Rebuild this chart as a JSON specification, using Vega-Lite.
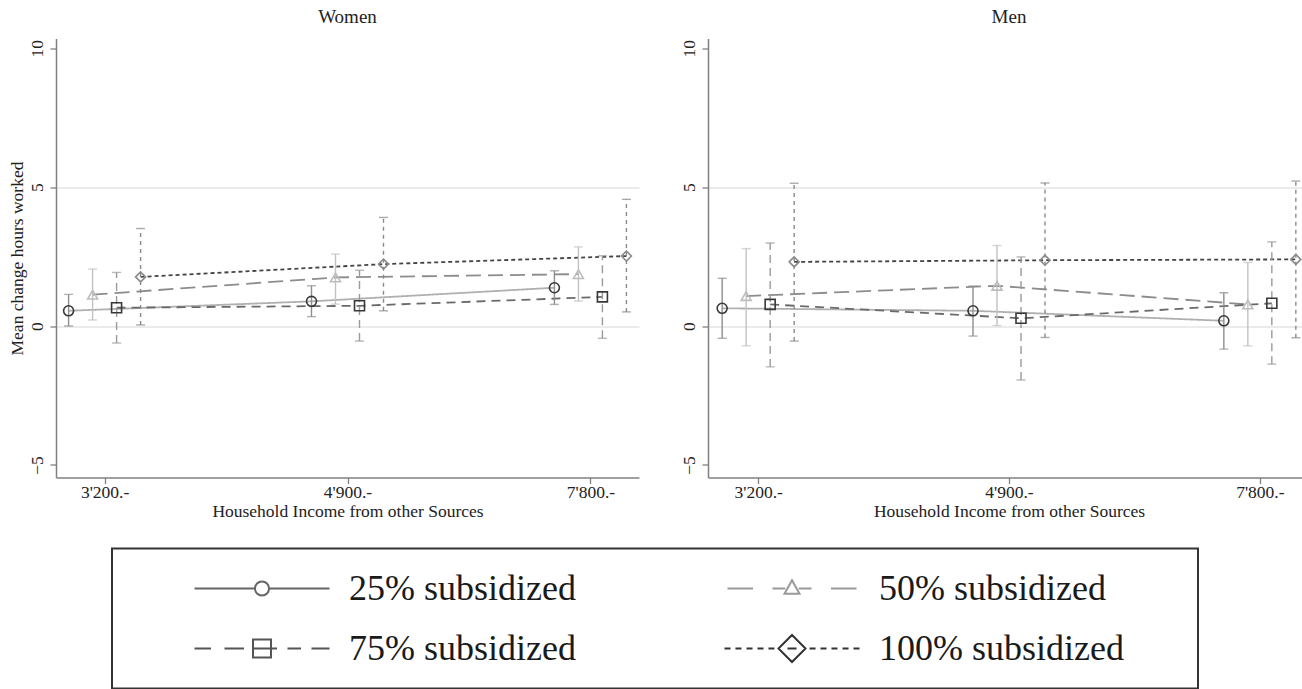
{
  "$schema": "https://vega.github.io/schema/vega-lite/v6.json",
  "padding": {"left": 1, "top": 7.5, "right": 0, "bottom": 0},
  "background": "white",
  "bounds": "flush",
  "spacing": 69,
  "datasets": {
    "pts": [
      {"sex": "Women", "income": "3'200.-", "group": "25% subsidized", "mean": 0.55, "lo": 0.0, "hi": 1.14},
      {"sex": "Women", "income": "4'900.-", "group": "25% subsidized", "mean": 0.89, "lo": 0.34, "hi": 1.45},
      {"sex": "Women", "income": "7'800.-", "group": "25% subsidized", "mean": 1.38, "lo": 0.78, "hi": 1.99},
      {"sex": "Women", "income": "3'200.-", "group": "50% subsidized", "mean": 1.13, "lo": 0.22, "hi": 2.05},
      {"sex": "Women", "income": "4'900.-", "group": "50% subsidized", "mean": 1.75, "lo": 0.79, "hi": 2.59},
      {"sex": "Women", "income": "7'800.-", "group": "50% subsidized", "mean": 1.87, "lo": 0.9, "hi": 2.85},
      {"sex": "Women", "income": "3'200.-", "group": "75% subsidized", "mean": 0.66, "lo": -0.61, "hi": 1.93},
      {"sex": "Women", "income": "4'900.-", "group": "75% subsidized", "mean": 0.73, "lo": -0.54, "hi": 2.01},
      {"sex": "Women", "income": "7'800.-", "group": "75% subsidized", "mean": 1.05, "lo": -0.44, "hi": 2.53},
      {"sex": "Women", "income": "3'200.-", "group": "100% subsidized", "mean": 1.77, "lo": 0.04, "hi": 3.51},
      {"sex": "Women", "income": "4'900.-", "group": "100% subsidized", "mean": 2.23, "lo": 0.55, "hi": 3.91},
      {"sex": "Women", "income": "7'800.-", "group": "100% subsidized", "mean": 2.52, "lo": 0.51, "hi": 4.56},
      {"sex": "Men", "income": "3'200.-", "group": "25% subsidized", "mean": 0.64, "lo": -0.44, "hi": 1.72},
      {"sex": "Men", "income": "4'900.-", "group": "25% subsidized", "mean": 0.55, "lo": -0.36, "hi": 1.44},
      {"sex": "Men", "income": "7'800.-", "group": "25% subsidized", "mean": 0.19, "lo": -0.83, "hi": 1.2},
      {"sex": "Men", "income": "3'200.-", "group": "50% subsidized", "mean": 1.08, "lo": -0.71, "hi": 2.79},
      {"sex": "Men", "income": "4'900.-", "group": "50% subsidized", "mean": 1.45, "lo": 0.02, "hi": 2.9},
      {"sex": "Men", "income": "7'800.-", "group": "50% subsidized", "mean": 0.78, "lo": -0.71, "hi": 2.29},
      {"sex": "Men", "income": "3'200.-", "group": "75% subsidized", "mean": 0.78, "lo": -1.47, "hi": 2.99},
      {"sex": "Men", "income": "4'900.-", "group": "75% subsidized", "mean": 0.28, "lo": -1.94, "hi": 2.49},
      {"sex": "Men", "income": "7'800.-", "group": "75% subsidized", "mean": 0.82, "lo": -1.37, "hi": 3.03},
      {"sex": "Men", "income": "3'200.-", "group": "100% subsidized", "mean": 2.31, "lo": -0.54, "hi": 5.14},
      {"sex": "Men", "income": "4'900.-", "group": "100% subsidized", "mean": 2.37, "lo": -0.41, "hi": 5.15},
      {"sex": "Men", "income": "7'800.-", "group": "100% subsidized", "mean": 2.4, "lo": -0.42, "hi": 5.22}
    ]
  },
  "config": {
    "view": {"stroke": null},
    "font": "Liberation Serif",
    "title": {"font": "Liberation Serif", "fontSize": 19, "fontWeight": "normal", "color": "#222", "offset": 12},
    "legend": {"strokeWidth": 2},
    "axis": {
      "labelFont": "Liberation Serif", "labelFontSize": 17.5, "labelColor": "#222",
      "titleFont": "Liberation Serif", "titleFontSize": 17.5, "titleFontWeight": "normal", "titleColor": "#222",
      "domainColor": "#808080", "domainWidth": 1.5, "tickColor": "#808080", "tickWidth": 1.3, "tickSize": 6
    }
  },
  "hconcat": [
    {
      "title": "Women",
      "width": 583,
      "height": 439,
      "data": {"name": "pts"},
      "transform": [{"filter": "datum.sex === 'Women'"}],
      "encoding": {
        "x": {"field": "income", "type": "nominal", "sort": ["3'200.-", "4'900.-", "7'800.-"],
              "scale": {"type": "point", "padding": 0.2},
              "axis": {"title": "Household Income from other Sources", "labelAngle": 0, "labelPadding": 0, "titlePadding": 1, "grid": false}},
        "xOffset": {"field": "group", "type": "nominal",
                    "scale": {"type": "point", "padding": 0, "domain": ["25% subsidized", "50% subsidized", "75% subsidized", "100% subsidized"], "range": [-36, 36]}}
      },
      "layer": [
        {
          "mark": {"type": "line", "strokeWidth": 1.8},
          "encoding": {
            "y": {"field": "mean", "type": "quantitative",
                  "scale": {"domain": [-5.45, 10.35], "nice": false, "zero": false},
                  "axis": {"title": "Mean change hours worked", "values": [-5, 0, 5, 10], "labelAngle": -90, "labelAlign": "center", "labelBaseline": "bottom", "labelPadding": 4, "titlePadding": 2,
                           "grid": true, "gridColor": {"condition": {"test": "datum.value === 0 || datum.value === 5", "value": "#e4e4e4"}, "value": "transparent"}, "gridWidth": 1.5}},
            "stroke": {"field": "group", "type": "nominal", "legend": null,
                       "scale": {"domain": ["25% subsidized", "50% subsidized", "75% subsidized", "100% subsidized"], "range": ["#b0b0b0", "#8c8c8c", "#6a6a6a", "#444444"]}},
            "strokeDash": {"field": "group", "type": "nominal", "legend": null,
                           "scale": {"domain": ["25% subsidized", "50% subsidized", "75% subsidized", "100% subsidized"], "range": [[1, 0], [15, 7], [9, 6], [4, 3]]}}
          }
        },
        {
          "mark": {"type": "rule", "strokeWidth": 1.4},
          "encoding": {
            "y": {"field": "lo", "type": "quantitative"},
            "y2": {"field": "hi"},
            "stroke": {"field": "group", "type": "nominal", "legend": null,
                       "scale": {"domain": ["25% subsidized", "50% subsidized", "75% subsidized", "100% subsidized"], "range": ["#8e8e8e", "#c2c2c2", "#9a9a9a", "#8a8a8a"]}},
            "strokeDash": {"field": "group", "type": "nominal", "legend": null,
                           "scale": {"domain": ["25% subsidized", "50% subsidized", "75% subsidized", "100% subsidized"], "range": [[1, 0], [1, 0], [8, 5], [4, 4]]}}
          }
        },
        {
          "mark": {"type": "tick", "orient": "horizontal", "size": 9, "thickness": 1.4},
          "encoding": {
            "y": {"field": "hi", "type": "quantitative"},
            "color": {"field": "group", "type": "nominal", "legend": null,
                      "scale": {"domain": ["25% subsidized", "50% subsidized", "75% subsidized", "100% subsidized"], "range": ["#8e8e8e", "#c2c2c2", "#9a9a9a", "#8a8a8a"]}}
          }
        },
        {
          "mark": {"type": "tick", "orient": "horizontal", "size": 9, "thickness": 1.4},
          "encoding": {
            "y": {"field": "lo", "type": "quantitative"},
            "color": {"field": "group", "type": "nominal", "legend": null,
                      "scale": {"domain": ["25% subsidized", "50% subsidized", "75% subsidized", "100% subsidized"], "range": ["#8e8e8e", "#c2c2c2", "#9a9a9a", "#8a8a8a"]}}
          }
        },
        {
          "mark": {"type": "point", "filled": false, "size": 100, "strokeWidth": 1.6, "opacity": 1},
          "encoding": {
            "y": {"field": "mean", "type": "quantitative"},
            "shape": {"field": "group", "type": "nominal", "legend": null,
                      "scale": {"domain": ["25% subsidized", "50% subsidized", "75% subsidized", "100% subsidized"], "range": ["circle", "triangle-up", "square", "diamond"]}},
            "stroke": {"field": "group", "type": "nominal", "legend": null,
                       "scale": {"domain": ["25% subsidized", "50% subsidized", "75% subsidized", "100% subsidized"], "range": ["#383838", "#bdbdbd", "#383838", "#8a8a8a"]}}
          }
        },
        {
          "mark": {"type": "point", "filled": false, "opacity": 0, "size": 900, "strokeWidth": 2},
          "encoding": {
            "y": {"field": "mean", "type": "quantitative"},
            "shape": {"field": "group", "type": "nominal",
                      "scale": {"domain": ["25% subsidized", "50% subsidized", "75% subsidized", "100% subsidized"],
                                "range": [
                                  "M-4.5,0H-0.47M0.47,0H4.5M0.47,0A0.47,0.47,0,1,1,-0.47,0A0.47,0.47,0,1,1,0.47,0",
                                  "M-4.3,0H-2.6M-1.3,0H-0.45M0.45,0H1.3M2.6,0H4.3M0,-0.55L0.5,0.35L-0.5,0.35ZM25.3,0",
                                  "M-4.5,0H-3.4M-2.5,0H-1.2M-0.6,-0.6H0.6V0.6H-0.6ZM-0.6,0H1.0M1.7,0H2.6M3.3,0H4.5",
                                  "M-4.5,0H-4.1M-3.77,0H-3.37M-3.03,0H-2.63M-2.3,0H-1.9M-1.57,0H-1.17M1.17,0H1.57M1.9,0H2.3M2.63,0H3.03M3.37,0H3.77M4.1,0H4.5M0,-0.9L0.9,0L0,0.9L-0.9,0ZM-0.3,0H0.3M25.3,0"
                                ]},
                      "legend": {"orient": "none", "legendX": 56, "legendY": 510, "title": null, "columns": 2, "direction": "horizontal",
                                 "symbolSize": 900, "symbolStrokeWidth": 2, "symbolOffset": 110, "labelOffset": 69,
                                 "labelFont": "Liberation Serif", "labelFontSize": 36, "labelColor": "#1a1a1a", "labelLimit": 500,
                                 "rowPadding": 24, "columnPadding": 88, "padding": 22, "strokeColor": "#333333", "symbolFillColor": "transparent", "symbolOpacity": 1}},
            "stroke": {"field": "group", "type": "nominal",
                       "scale": {"domain": ["25% subsidized", "50% subsidized", "75% subsidized", "100% subsidized"], "range": ["#666666", "#999999", "#555555", "#333333"]},
                       "legend": {"orient": "none", "legendX": 56, "legendY": 510, "title": null, "columns": 2, "direction": "horizontal",
                                 "symbolSize": 900, "symbolStrokeWidth": 2, "symbolOffset": 110, "labelOffset": 69,
                                 "labelFont": "Liberation Serif", "labelFontSize": 36, "labelColor": "#1a1a1a", "labelLimit": 500,
                                 "rowPadding": 24, "columnPadding": 88, "padding": 22, "strokeColor": "#333333", "symbolFillColor": "transparent", "symbolOpacity": 1}}
          }
        }
      ],
      "resolve": {"scale": {"stroke": "independent", "strokeDash": "independent", "shape": "independent", "color": "independent"}}
    },
    {
      "title": "Men",
      "width": 602,
      "height": 439,
      "data": {"name": "pts"},
      "transform": [{"filter": "datum.sex === 'Men'"}],
      "encoding": {
        "x": {"field": "income", "type": "nominal", "sort": ["3'200.-", "4'900.-", "7'800.-"],
              "scale": {"type": "point", "padding": 0.2},
              "axis": {"title": "Household Income from other Sources", "labelAngle": 0, "labelPadding": 0, "titlePadding": 1, "grid": false}},
        "xOffset": {"field": "group", "type": "nominal",
                    "scale": {"type": "point", "padding": 0, "domain": ["25% subsidized", "50% subsidized", "75% subsidized", "100% subsidized"], "range": [-37.5, 37.5]}}
      },
      "layer": [
        {
          "mark": {"type": "line", "strokeWidth": 1.8},
          "encoding": {
            "y": {"field": "mean", "type": "quantitative",
                  "scale": {"domain": [-5.45, 10.35], "nice": false, "zero": false},
                  "axis": {"title": null, "values": [-5, 0, 5, 10], "labelAngle": -90, "labelAlign": "center", "labelBaseline": "bottom", "labelPadding": 4,
                           "grid": true, "gridColor": {"condition": {"test": "datum.value === 0 || datum.value === 5", "value": "#e4e4e4"}, "value": "transparent"}, "gridWidth": 1.5}},
            "stroke": {"field": "group", "type": "nominal", "legend": null,
                       "scale": {"domain": ["25% subsidized", "50% subsidized", "75% subsidized", "100% subsidized"], "range": ["#b0b0b0", "#8c8c8c", "#6a6a6a", "#444444"]}},
            "strokeDash": {"field": "group", "type": "nominal", "legend": null,
                           "scale": {"domain": ["25% subsidized", "50% subsidized", "75% subsidized", "100% subsidized"], "range": [[1, 0], [15, 7], [9, 6], [4, 3]]}}
          }
        },
        {
          "mark": {"type": "rule", "strokeWidth": 1.4},
          "encoding": {
            "y": {"field": "lo", "type": "quantitative"},
            "y2": {"field": "hi"},
            "stroke": {"field": "group", "type": "nominal", "legend": null,
                       "scale": {"domain": ["25% subsidized", "50% subsidized", "75% subsidized", "100% subsidized"], "range": ["#8e8e8e", "#c2c2c2", "#9a9a9a", "#8a8a8a"]}},
            "strokeDash": {"field": "group", "type": "nominal", "legend": null,
                           "scale": {"domain": ["25% subsidized", "50% subsidized", "75% subsidized", "100% subsidized"], "range": [[1, 0], [1, 0], [8, 5], [4, 4]]}}
          }
        },
        {
          "mark": {"type": "tick", "orient": "horizontal", "size": 9, "thickness": 1.4},
          "encoding": {
            "y": {"field": "hi", "type": "quantitative"},
            "color": {"field": "group", "type": "nominal", "legend": null,
                      "scale": {"domain": ["25% subsidized", "50% subsidized", "75% subsidized", "100% subsidized"], "range": ["#8e8e8e", "#c2c2c2", "#9a9a9a", "#8a8a8a"]}}
          }
        },
        {
          "mark": {"type": "tick", "orient": "horizontal", "size": 9, "thickness": 1.4},
          "encoding": {
            "y": {"field": "lo", "type": "quantitative"},
            "color": {"field": "group", "type": "nominal", "legend": null,
                      "scale": {"domain": ["25% subsidized", "50% subsidized", "75% subsidized", "100% subsidized"], "range": ["#8e8e8e", "#c2c2c2", "#9a9a9a", "#8a8a8a"]}}
          }
        },
        {
          "mark": {"type": "point", "filled": false, "size": 100, "strokeWidth": 1.6, "opacity": 1},
          "encoding": {
            "y": {"field": "mean", "type": "quantitative"},
            "shape": {"field": "group", "type": "nominal", "legend": null,
                      "scale": {"domain": ["25% subsidized", "50% subsidized", "75% subsidized", "100% subsidized"], "range": ["circle", "triangle-up", "square", "diamond"]}},
            "stroke": {"field": "group", "type": "nominal", "legend": null,
                       "scale": {"domain": ["25% subsidized", "50% subsidized", "75% subsidized", "100% subsidized"], "range": ["#383838", "#bdbdbd", "#383838", "#8a8a8a"]}}
          }
        }
      ],
      "resolve": {"scale": {"stroke": "independent", "strokeDash": "independent", "shape": "independent", "color": "independent"}}
    }
  ]
}
